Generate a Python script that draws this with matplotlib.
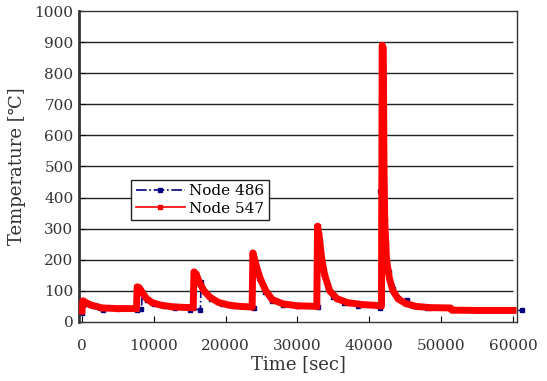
import matplotlib.pyplot as plt

plt.rcParams['font.family'] = ['DejaVu Serif', 'Noto Sans CJK KR']

# Node 547 (red)
t_547 = [0, 150, 600, 1200, 2000, 2800, 5000, 7600,
         7700, 8000, 8400, 9000, 9800, 11000, 12500, 14000, 15500,
         15600, 15900, 16300, 17000, 17800, 19000, 20500, 22000, 23700,
         23800, 24000, 24400, 24900, 25600, 26500, 28000, 30000, 32700,
         32800, 33000, 33400, 33800, 34500, 35500, 37000, 39000, 41700,
         41800, 41950, 42050, 42150, 42400, 42800, 43300, 44000, 45000,
         46500, 48500, 51300, 51500, 55000, 60000]
T_547 = [35, 68, 62, 55, 50, 45, 43, 43,
         113, 110, 95, 75, 62, 54, 49, 47, 46,
         161, 155, 130, 100, 80, 63, 54, 50, 48,
         222, 205, 170, 135, 100, 72, 58, 52, 50,
         308, 280, 200, 150, 100, 75, 62, 56, 52,
         890, 880, 500, 330, 200, 140, 100, 75, 60,
         50, 46, 45, 38, 37, 37]

# Node 486 (navy)
t_486 = [0, 200, 800, 1500, 2500, 3000, 7700,
         8300, 8400, 9000, 10000, 11500, 13000, 15000,
         16500, 16600, 17200, 18000, 19500, 21000, 23900,
         24000, 24600, 25500, 26500, 28000, 30000, 32900,
         33100, 33600, 34200, 35000, 36500, 38500, 41500,
         41550, 41900, 42300, 42700, 43300, 44000, 45200,
         45300, 46100, 48000, 51500, 55000, 61300]
T_486 = [30, 55, 58, 52, 45, 40, 40,
         42, 95, 72, 58, 50, 46, 40,
         40, 130, 95, 75, 58, 50, 46,
         190, 140, 95, 68, 55, 50, 48,
         260, 170, 110, 80, 60, 52, 45,
         420, 400, 250, 160, 105, 78, 70,
         58, 52, 46, 40, 37, 37]

y_ticks = list(range(0, 1001, 100))
x_ticks = [0, 10000, 20000, 30000, 40000, 50000, 60000]

fig = plt.figure(figsize=(5.47, 3.81), dpi=100)
ax = fig.add_axes([0.1444, 0.155, 0.8006, 0.816])

ax.set_xlim(-400, 60550)
ax.set_ylim(0, 1000)

# horizontal grid lines stop at the last x tick
ax.hlines(y_ticks[1:-1], -400, 60000, colors='#222222', linewidth=1.0, zorder=1)

ax.plot(t_486, T_486, color='#000080', linestyle='-.', linewidth=1.2,
        marker='s', markersize=3, markerfacecolor='#000080',
        label='Node 486', zorder=2, clip_on=False)
ax.plot(t_547, T_547, color='red', linestyle='-', linewidth=5,
        marker='s', markersize=3, markerfacecolor='red',
        label='Node 547', zorder=3)

ax.set_xticks(x_ticks)
ax.set_yticks(y_ticks)
ax.tick_params(direction='in', length=4, labelsize=11, labelcolor='#333333')
ax.tick_params(axis='x', pad=12)
ax.tick_params(axis='y', pad=4)

for s in ax.spines.values():
    s.set_linewidth(1.0)
    s.set_color('#333333')
ax.spines['left'].set_linewidth(2.0)

ax.set_xlabel('Time [sec]', fontsize=13, color='#333333', labelpad=2)
ax.set_ylabel('Temperature [℃]', fontsize=13, color='#333333', labelpad=6)

leg = ax.legend(loc='upper left', bbox_to_anchor=(0.119, 0.457),
                borderaxespad=0, fancybox=False, framealpha=1,
                edgecolor='#222222', fontsize=11, handlelength=3.2,
                borderpad=0.3, labelspacing=0.2, handletextpad=0.3)
leg.get_frame().set_linewidth(1.0)
for line in leg.get_lines():
    line.set_linewidth(1.2)

fig.savefig('out.png', dpi=100)
